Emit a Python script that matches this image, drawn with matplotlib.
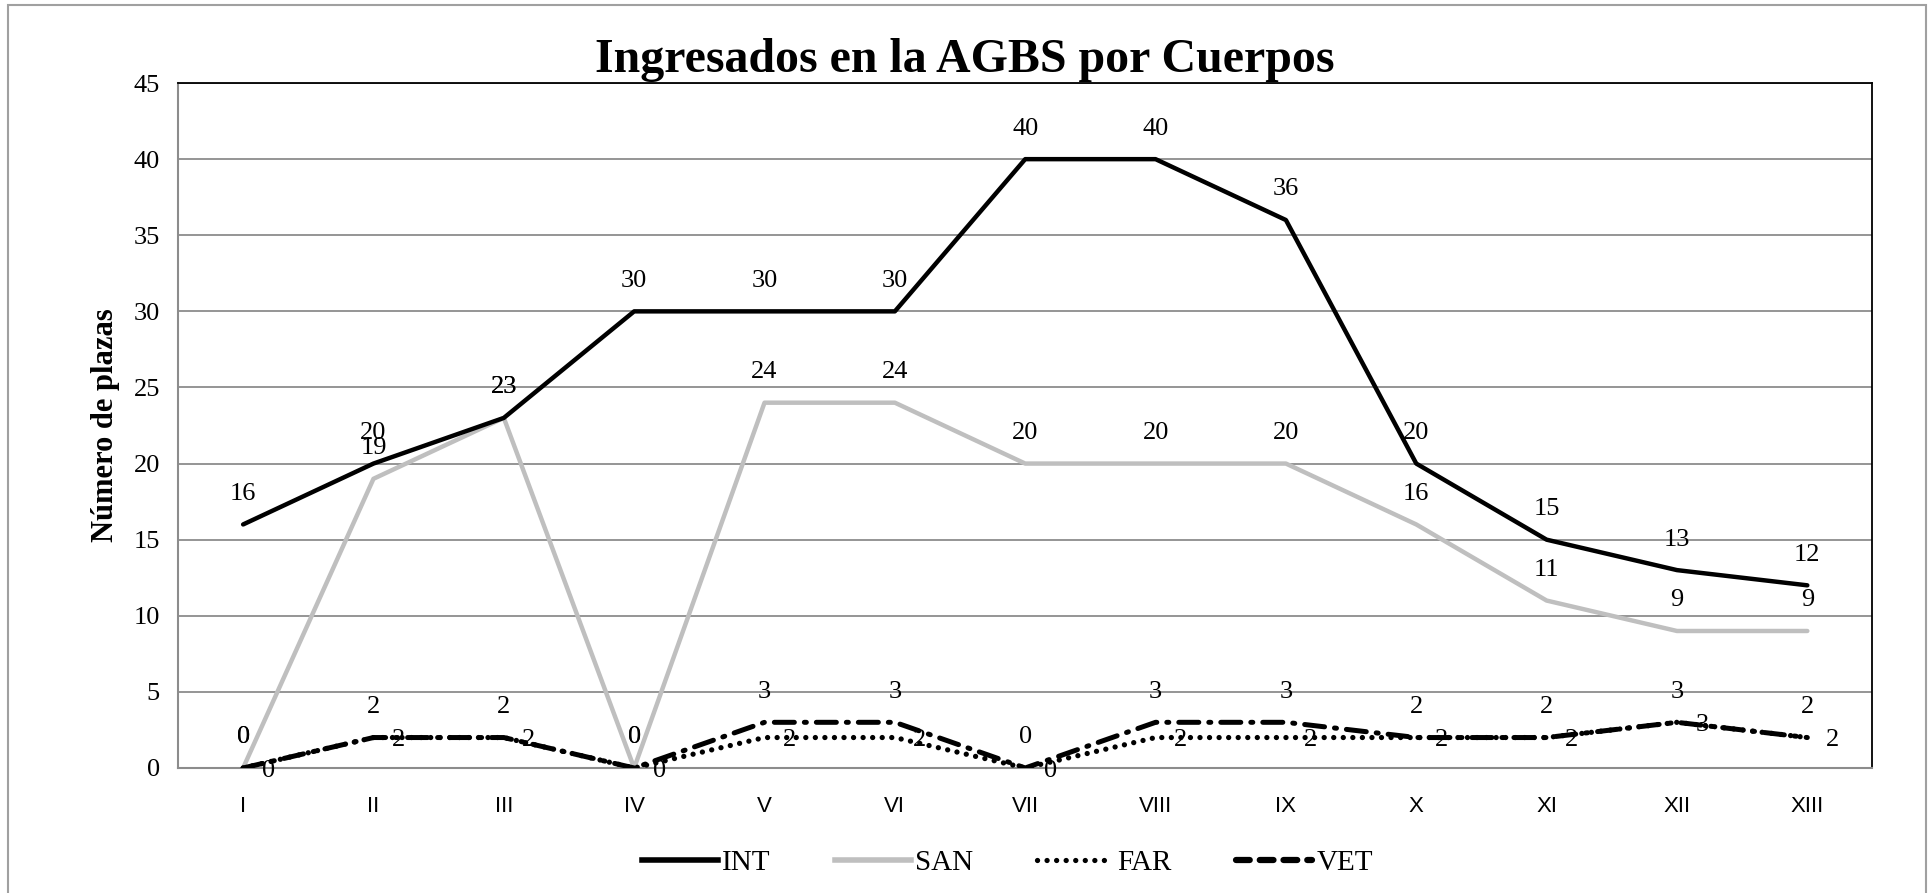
import matplotlib
matplotlib.use('Agg')
import numpy as np
import matplotlib.pyplot as plt
from matplotlib.lines import Line2D
from matplotlib.patches import Rectangle

# data
categories = ['I', 'II', 'III', 'IV', 'V', 'VI', 'VII', 'VIII', 'IX', 'X', 'XI', 'XII', 'XIII']
int_vals = [16, 20, 23, 30, 30, 30, 40, 40, 36, 20, 15, 13, 12]
san_vals = [0, 19, 23, 0, 24, 24, 20, 20, 20, 16, 11, 9, 9]
far_vals = [0, 2, 2, 0, 2, 2, 0, 2, 2, 2, 2, 3, 2]
vet_vals = [0, 2, 2, 0, 3, 3, 0, 3, 3, 2, 2, 3, 2]

serif = 'Liberation Serif'
sans = 'Liberation Sans'
dotted = (0, (0.01, 1.8))

fig = plt.figure(figsize=(19.3, 8.93), dpi=100)
# outer frame
fig.patches.append(Rectangle((0.004, -0.01), 0.994, 1.004, transform=fig.transFigure,
                             fill=False, edgecolor='#a0a0a0', linewidth=1.5))
ax = fig.add_axes([0.0922, 0.140, 0.878, 0.767])

x = np.arange(len(categories))
ax.plot(x, int_vals, color='black', lw=3.2, solid_joinstyle='round', solid_capstyle='round', zorder=4)
ax.plot(x, san_vals, color='#bfbfbf', lw=3.2, solid_joinstyle='round', solid_capstyle='round', zorder=3)
ax.plot(x, far_vals, color='black', lw=3.8, linestyle=dotted, dash_capstyle='round', zorder=5)
ax.plot(x, vet_vals, color='black', lw=3.6, linestyle=(0, (4, 2, 0.4, 2)), dash_capstyle='round', zorder=6)

lab = dict(fontsize=19, family=serif, color='black')
for xi, v in zip(x, int_vals):
    ax.annotate(str(v), (xi, v), xytext=(0, 22), textcoords='offset points', ha='center', va='center', **lab)
for xi, v in zip(x, san_vals):
    ax.annotate(str(v), (xi, v), xytext=(0, 22), textcoords='offset points', ha='center', va='center', **lab)
for xi, v in zip(x, vet_vals):
    ax.annotate(str(v), (xi, v), xytext=(0, 22), textcoords='offset points', ha='center', va='center', **lab)
for xi, v in zip(x, far_vals):
    ax.annotate(str(v), (xi, v), xytext=(18, -2), textcoords='offset points', ha='center', va='center', **lab)

ax.set_xlim(-0.5, len(categories) - 0.5)
ax.set_ylim(0, 45)
ax.set_yticks(np.arange(0, 46, 5))
ax.set_xticks(x)
ax.set_xticklabels(categories, family=sans, fontsize=16)
for t in ax.get_yticklabels():
    t.set_family(serif)
    t.set_fontsize(19)
ax.tick_params(axis='both', length=0)
ax.tick_params(axis='x', pad=20)
ax.tick_params(axis='y', pad=13)
ax.grid(axis='y', color='#8c8c8c', lw=1.3)
ax.set_axisbelow(True)
for s in ['left', 'bottom']:
    ax.spines[s].set_color('#8c8c8c')
    ax.spines[s].set_linewidth(1.5)
for s in ['top', 'right']:
    ax.spines[s].set_color('black')
    ax.spines[s].set_linewidth(1.3)

ax.set_ylabel('Número de plazas', family=serif, fontsize=22, fontweight='bold', labelpad=10)
fig.text(0.5, 0.933, 'Ingresados en la AGBS por Cuerpos', ha='center', va='center',
         family=serif, fontsize=34.5, fontweight='bold')

handles = [
    Line2D([], [], color='black', lw=4),
    Line2D([], [], color='#bfbfbf', lw=4),
    Line2D([], [], color='black', lw=3.8, linestyle=dotted, dash_capstyle='round'),
    Line2D([], [], color='black', lw=4.5, linestyle=(0, (2.2, 1.6)), dash_capstyle='round'),
]
leg = fig.legend(handles, ['INT', 'SAN', 'FAR', 'VET'], loc='center', bbox_to_anchor=(0.522, 0.034),
                 ncol=4, frameon=False, prop={'family': serif, 'size': 21},
                 handlelength=2.6, handletextpad=0.15, columnspacing=2.2)

plt.savefig('out.png', dpi=100)
